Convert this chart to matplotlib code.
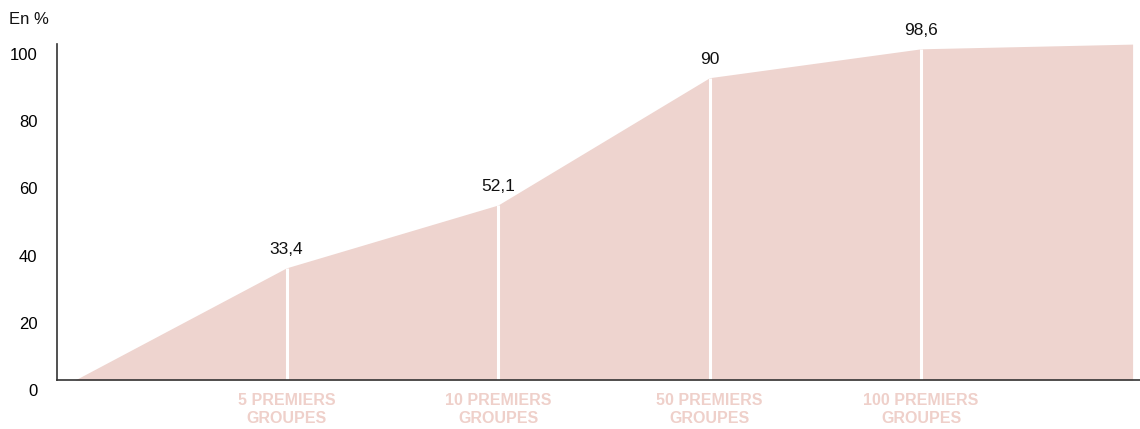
import numpy as np
import matplotlib as mpl
import matplotlib.pyplot as plt
from matplotlib.transforms import ScaledTranslation

# data
positions = [0, 1, 2, 3, 4, 5]
values = [0, 33.4, 52.1, 90, 98.6, 100]
value_labels = ["", "33,4", "52,1", "90", "98,6", ""]
group_labels = ["5 PREMIERS\nGROUPES", "10 PREMIERS\nGROUPES",
                "50 PREMIERS\nGROUPES", "100 PREMIERS\nGROUPES"]
yticks = [0, 20, 40, 60, 80, 100]

fill_color = "#eed4cf"
label_color = "#efd0ca"
num_font = ["Liberation Sans", "DejaVu Sans"]

fig = plt.figure(figsize=(11.4, 4.29), dpi=100)
ax = fig.add_axes([0.05, 0.1142, 0.95, 0.783])

ax.fill_between(positions, values, 0, color=fill_color, lw=0, zorder=1)

# white separators at each group
for x, v in zip(positions[1:5], values[1:5]):
    ax.plot([x, x], [0, v], color="white", lw=2.2, zorder=2, solid_capstyle="butt")

for x, v, lab in zip(positions, values, value_labels):
    if lab:
        ax.annotate(lab, (x, v), xytext=(0, 8), textcoords="offset points",
                    ha="center", va="bottom", fontsize=12.5, family=num_font,
                    color="#111111")

ax.set_xlim(-0.085, 5.035)
ax.set_ylim(0, 100)

ax.set_xticks(positions[1:5])
ax.set_xticklabels(group_labels, fontsize=11.5, fontweight="bold",
                   color=label_color, linespacing=1.25, family=num_font)
ax.tick_params(axis="x", length=0, pad=9)

ax.set_yticks(yticks)
ax.set_yticklabels([str(t) for t in yticks], fontsize=12, family=num_font)
ax.tick_params(axis="y", length=0, pad=14)
shift = ScaledTranslation(0, -10 / 100, fig.dpi_scale_trans)
for lbl in ax.get_yticklabels():
    lbl.set_transform(lbl.get_transform() + shift)

for s in ["top", "right"]:
    ax.spines[s].set_visible(False)
for s in ["left", "bottom"]:
    ax.spines[s].set_color("#333333")
    ax.spines[s].set_linewidth(1.2)

fig.text(9 / 1140, 1 - 20 / 429, "En %", fontsize=12, family=num_font,
         va="center", ha="left", color="#111111")

fig.savefig("out.png", dpi=100)
